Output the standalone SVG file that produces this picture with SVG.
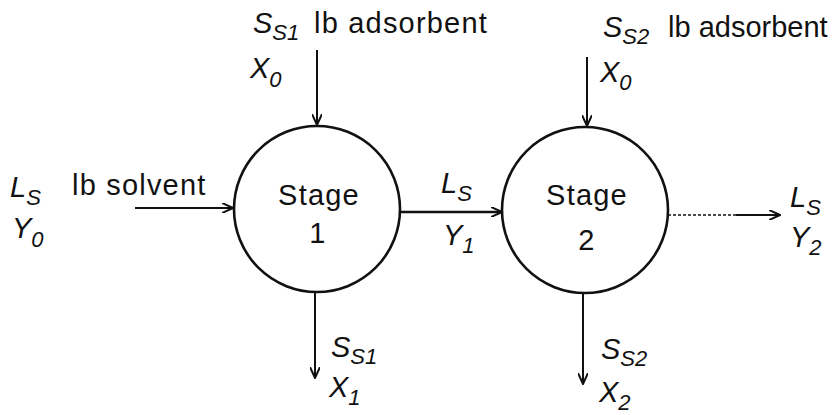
<svg xmlns="http://www.w3.org/2000/svg" width="840" height="415" viewBox="0 0 840 415">
<style>
text{font-family:"Liberation Sans",Arial,sans-serif;fill:#111;}
.t{font-size:29px;letter-spacing:1.2px;}
.v{font-size:29px;font-style:italic;}
.s{font-size:22px;font-style:italic;}
.node circle{fill:none;stroke:#111;stroke-width:2.6;}
.c line{stroke:#111;stroke-width:2;fill:none;}
</style>
<defs>
<marker id="ah" viewBox="0 0 12 10" refX="11" refY="5" markerWidth="12" markerHeight="10" markerUnits="userSpaceOnUse" orient="auto">
<path d="M0,0 L11,5 L0,10" fill="none" stroke="#111" stroke-width="2"/>
</marker>
</defs>
<rect width="840" height="415" fill="#fff"/>
<g id="stage1" class="node">
<circle cx="317" cy="209" r="83"/>
<text class="t" x="319" y="205" text-anchor="middle">Stage</text>
<text class="t" x="318" y="243" text-anchor="middle">1</text>
</g>
<g id="stage2" class="node">
<circle cx="585" cy="210" r="83"/>
<text class="t" x="587" y="205" text-anchor="middle">Stage</text>
<text class="t" x="587" y="250" text-anchor="middle">2</text>
</g>
<g id="connectors" class="c">
<line x1="317" y1="50" x2="317" y2="125" marker-end="url(#ah)"/>
<line x1="587" y1="57" x2="587" y2="126" marker-end="url(#ah)"/>
<line x1="135" y1="208" x2="233" y2="208" marker-end="url(#ah)"/>
<line x1="400" y1="212" x2="502" y2="212" marker-end="url(#ah)" style="stroke-width:2.6"/>
<line x1="668" y1="215" x2="738" y2="215" style="stroke-width:1.5;stroke-dasharray:3 2"/>
<line x1="736" y1="215" x2="780" y2="215" marker-end="url(#ah)"/>
<line x1="315" y1="291" x2="315" y2="378" marker-end="url(#ah)"/>
<line x1="583" y1="294" x2="583" y2="384" marker-end="url(#ah)"/>
</g>
<g id="feed1">
<text class="v" x="253" y="33">S<tspan class="s" dy="7">S1</tspan></text>
<text class="t" x="314" y="33">lb adsorbent</text>
<text class="v" x="250" y="78">X<tspan class="s" dy="9">0</tspan></text>
</g>
<g id="feed2">
<text class="v" x="603" y="37">S<tspan class="s" dy="7">S2</tspan></text>
<text class="t" x="668" y="37" style="letter-spacing:0">lb adsorbent</text>
<text class="v" x="600" y="82">X<tspan class="s" dy="8">0</tspan></text>
</g>
<g id="solventIn">
<text class="v" x="10" y="197">L<tspan class="s" dy="8">S</tspan></text>
<text class="t" x="72" y="195">lb solvent</text>
<text class="v" x="12" y="238">Y<tspan class="s" dy="9">0</tspan></text>
</g>
<g id="mid">
<text class="v" x="441" y="193">L<tspan class="s" dy="8">S</tspan></text>
<text class="v" x="443" y="245">Y<tspan class="s" dy="8">1</tspan></text>
</g>
<g id="out">
<text class="v" x="790" y="207">L<tspan class="s" dy="8">S</tspan></text>
<text class="v" x="790" y="247">Y<tspan class="s" dy="8">2</tspan></text>
</g>
<g id="under1">
<text class="v" x="331" y="357">S<tspan class="s" dy="7">S1</tspan></text>
<text class="v" x="329" y="397">X<tspan class="s" dy="8">1</tspan></text>
</g>
<g id="under2">
<text class="v" x="601" y="359">S<tspan class="s" dy="7">S2</tspan></text>
<text class="v" x="599" y="402">X<tspan class="s" dy="8">2</tspan></text>
</g>
</svg>
